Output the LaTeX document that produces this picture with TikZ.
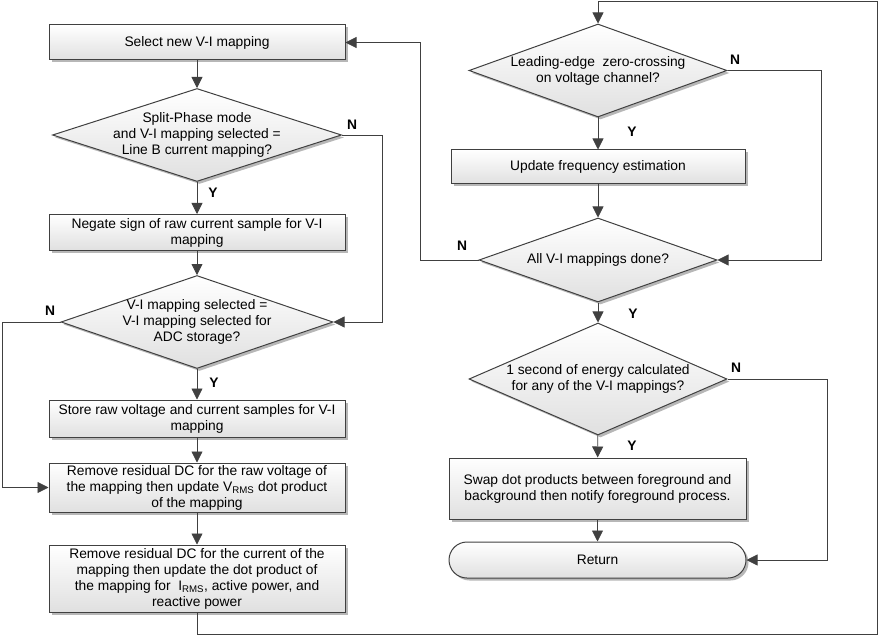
\documentclass[tikz,border=0pt]{standalone}
\usepackage{fontspec}
\setmainfont{Liberation Sans}
\usetikzlibrary{arrows.meta,shapes.geometric,shadows}
\definecolor{edgec}{HTML}{404040}
\definecolor{boxbot}{HTML}{E0E0E0}
\newcommand{\myfs}{\fontsize{13.8pt}{16pt}\selectfont}
\begin{document}
\begin{tikzpicture}[x=1pt,y=-1pt,
  shade/.style={draw=edgec, line width=1pt, top color=white, bottom color=boxbot,
    drop shadow={shadow xshift=2.5pt, shadow yshift=-2.5pt, fill=black!40, opacity=0.7}},
  proc/.style={shade, rectangle, minimum width=296pt, align=center, inner sep=2pt, font=\myfs},
  dia/.style={shade, diamond, inner sep=0pt},
  dtext/.style={align=center, font=\myfs, inner sep=0pt},
  lbl/.style={font=\myfs\bfseries, inner sep=0pt},
  conn/.style={draw=edgec, line width=0.8pt},
  arr/.style={conn, -{Triangle[length=11pt,width=11pt]}}]
\useasboundingbox (0,0) rectangle (882,636);

% left column
\node[proc, minimum height=35pt] (b1) at (197,42.5) {Select new V-I mapping};
\node[dia, minimum width=289pt, minimum height=93pt] (d1) at (197,135) {};
\node[dtext] (d1t) at (d1) {Split-Phase mode\\and V-I mapping selected =\\Line B current mapping?};
\node[proc, minimum height=36pt] (b2) at (197,232.5) {Negate sign of raw current sample for V-I\\mapping};
\node[dia, minimum width=272pt, minimum height=93pt] (d2) at (197,322) {};
\node[dtext] (d2t) at (d2) {V-I mapping selected =\\V-I mapping selected for\\ADC storage?};
\node[proc, minimum height=37pt] (b3) at (197,418.5) {Store raw voltage and current samples for V-I\\mapping};
\node[proc, minimum height=49pt] (b4) at (197,487.5) {Remove residual DC for the raw voltage of\\the mapping then update V\textsubscript{RMS} dot product\\of the mapping};
\node[proc, minimum height=67pt] (b5) at (197,578.5) {Remove residual DC for the current of the\\mapping then update the dot product of\\the mapping for \ I\textsubscript{RMS}, active power, and\\reactive power};

% right column
\node[dia, minimum width=258pt, minimum height=93pt] (r1) at (598,70.5) {};
\node[dtext] (r1t) at (r1) {Leading-edge \ zero-crossing\\on voltage channel?};
\node[proc, minimum height=34pt, minimum width=294pt] (rb1) at (598,167) {Update frequency estimation};
\node[dia, minimum width=238pt, minimum height=84pt] (r2) at (598,260) {};
\node[dtext] (r2t) at (r2) {All V-I mappings done?};
\node[dia, minimum width=258pt, minimum height=112pt] (r3) at (598,379) {};
\node[dtext] (r3t) at (r3) {1 second of energy calculated\\for any of the V-I mappings?};
\node[proc, minimum height=61pt, minimum width=297pt] (rb2) at (597.5,488.5) {Swap dot products between foreground and\\background then notify foreground process.};
\node[proc, rounded corners=18pt, minimum height=36pt, minimum width=297pt] (ret) at (597.5,560) {Return};

% labels
\node[lbl] (n1) at (352,125) {N};
\node[lbl] (y1) at (213,193) {Y};
\node[lbl] (n2) at (50,311) {N};
\node[lbl] (y2) at (214,383) {Y};
\node[lbl] (n3) at (735,60) {N};
\node[lbl] (y3) at (632,132) {Y};
\node[lbl] (n4) at (462,246) {N};
\node[lbl] (y4) at (633,314) {Y};
\node[lbl] (n5) at (736,368) {N};
\node[lbl] (y5) at (632,446) {Y};

% connectors left
\draw[arr] (b1) -- (d1);
\draw[arr] (d1) -- (b2);
\draw[arr] (b2) -- (d2);
\draw[arr] (d2) -- (b3);
\draw[arr] (b3) -- (b4);
\draw[arr] (b4) -- (b5);
\draw[arr] (d1.east) -- ++(40,0) |- (d2.east);
\draw[arr] (d2.west) -- ++(-58,0) |- (b4.west);

% loop from bottom to top right
\coordinate (cbl) at (197,634.5);
\coordinate (cbr) at (877,634.5);
\coordinate (ctr) at (877,1.5);
\coordinate (ctl) at (598,1.5);
\draw[arr] (b5.south) -- (cbl) -- (cbr) -- (ctr) -- (ctl) -- (r1.north);

% connectors right
\draw[arr] (r1) -- (rb1);
\draw[arr] (rb1) -- (r2);
\draw[arr] (r2) -- (r3);
\draw[arr] (r3) -- (rb2);
\draw[arr] (rb2) -- (ret);
\draw[arr] (r1.east) -- ++(94,0) |- (r2.east);
\draw[arr] (r2.west) -- ++(-58,0) |- (b1.east);
\draw[arr] (r3.east) -- ++(100,0) |- (ret.east);
\end{tikzpicture}
\end{document}
